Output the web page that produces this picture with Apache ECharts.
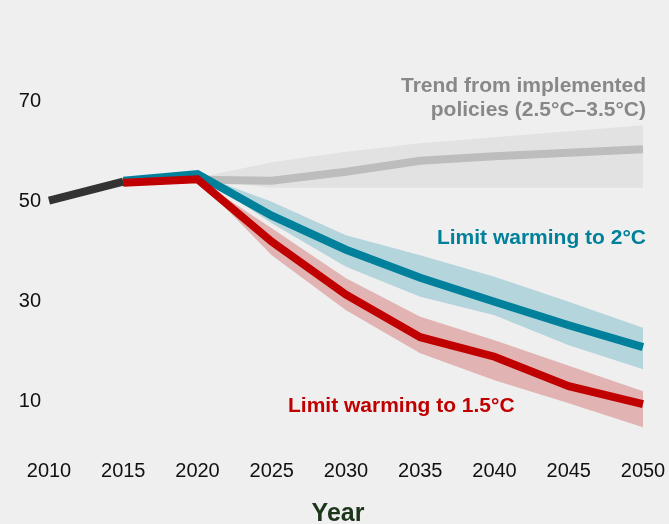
<!DOCTYPE html>
<html>
<head>
<meta charset="utf-8">
<style>
  html, body { margin: 0; padding: 0; background: #efefef; }
  #chart { width: 669px; height: 524px; }
</style>
<script src="https://cdn.jsdelivr.net/npm/echarts@6/dist/echarts.min.js"></script>
</head>
<body>
<div id="chart"></div>
<script>
// Years on the horizontal axis
const years = ['2010', '2015', '2020', '2025', '2030', '2035', '2040', '2045', '2050'];

// Historical emissions
const history = [50.2, 54.0, null, null, null, null, null, null, null];

// Trend from implemented policies: median and range
const policyMid  = [null, null, 54.4, 54.2, 56.0, 58.2, 59.1, 59.8, 60.5];
const policyLow  = [null, null, 54.4, 52.8, 52.8, 52.8, 52.8, 52.8, 52.8];
const policyHigh = [null, null, 54.8, 57.9, 60.0, 61.7, 62.9, 64.1, 65.3];

// Pathway limiting warming to 2°C
const mid2  = [null, 54.2, 55.5, 47.2, 40.4, 34.8, 30.0, 25.3, 20.9];
const low2  = [null, null, 55.5, 45.7, 37.0, 31.0, 27.3, 21.3, 16.5];
const high2 = [null, null, 55.5, 50.0, 43.3, 39.3, 35.0, 30.0, 24.8];

// Pathway limiting warming to 1.5°C
const mid15  = [null, 53.8, 54.5, 42.0, 31.4, 22.9, 19.0, 13.1, 9.5];
const low15  = [null, null, 54.5, 39.3, 28.3, 19.7, 14.3, 9.7, 4.9];
const high15 = [null, null, 54.5, 44.7, 34.7, 27.0, 22.3, 17.2, 12.1];

// Y-axis labels that are shown
const yLabels = [10, 30, 50, 70];

const FONT = '"Liberation Sans", Arial, Helvetica, sans-serif';

function bandSeries(name, low, high, color) {
  return {
    name: name,
    type: 'custom',
    silent: true,
    data: [[0, 0]],
    renderItem: function (params, api) {
      const pts = [];
      for (let i = 0; i < high.length; i++) {
        if (high[i] != null) pts.push(api.coord([i, high[i]]));
      }
      for (let i = low.length - 1; i >= 0; i--) {
        if (low[i] != null) pts.push(api.coord([i, low[i]]));
      }
      return {
        type: 'polygon',
        shape: { points: pts },
        style: { fill: color }
      };
    }
  };
}

function lineSeries(name, data, color, z) {
  return {
    name: name,
    type: 'line',
    data: data,
    showSymbol: false,
    symbol: 'none',
    silent: true,
    z: z,
    lineStyle: { color: color, width: 8, cap: 'butt', join: 'miter' }
  };
}

const chart = echarts.init(document.getElementById('chart'), null, { renderer: 'canvas' });

chart.setOption({
  backgroundColor: '#efefef',
  animation: false,
  grid: { left: 49, right: 26, top: 51.7, bottom: 72.3, outerBoundsMode: 'none', containLabel: false },
  xAxis: {
    type: 'category',
    data: years,
    boundaryGap: false,
    axisLine: { show: false },
    axisTick: { show: false },
    splitLine: { show: false },
    axisLabel: { color: '#111', fontSize: 20, fontFamily: FONT, margin: 10 },
    name: 'Year',
    nameLocation: 'middle',
    nameGap: 50,
    nameTextStyle: {
      color: '#1c361a', fontSize: 25, fontWeight: 'bold', fontFamily: FONT,
      padding: [0, 16, 0, 0]
    }
  },
  yAxis: {
    type: 'value',
    min: 0,
    max: 80,
    interval: 10,
    axisLine: { show: false },
    axisTick: { show: false },
    splitLine: { show: false },
    axisLabel: {
      color: '#111', fontSize: 20, fontFamily: FONT, margin: 8,
      formatter: function (v) { return yLabels.indexOf(v) >= 0 ? String(v) : ''; }
    }
  },
  graphic: [
    {
      type: 'text', x: 646, y: 74, z: 10,
      style: {
        text: 'Trend from implemented\npolicies (2.5°C–3.5°C)',
        fill: '#888888', font: 'bold 21px ' + FONT,
        align: 'right', verticalAlign: 'top', lineHeight: 24
      }
    },
    {
      type: 'text', x: 646, y: 228, z: 10,
      style: {
        text: 'Limit warming to 2°C', fill: '#00809a', font: 'bold 21px ' + FONT,
        align: 'right', verticalAlign: 'top'
      }
    },
    {
      type: 'text', x: 288, y: 396, z: 10,
      style: {
        text: 'Limit warming to 1.5°C', fill: '#c00000', font: 'bold 21px ' + FONT,
        align: 'left', verticalAlign: 'top'
      }
    }
  ],
  series: [
    bandSeries('Policies range', policyLow, policyHigh, '#e2e2e2'),
    bandSeries('2°C range', low2, high2, '#b5d5dd'),
    bandSeries('1.5°C range', low15, high15, 'rgba(214,120,120,0.5)'),
    lineSeries('Implemented policies', policyMid, '#bdbdbd', 3),
    lineSeries('Limit warming to 2°C', mid2, '#00809a', 4),
    lineSeries('Limit warming to 1.5°C', mid15, '#c00000', 5),
    lineSeries('History', history, '#333333', 6)
  ]
});
</script>
</body>
</html>
